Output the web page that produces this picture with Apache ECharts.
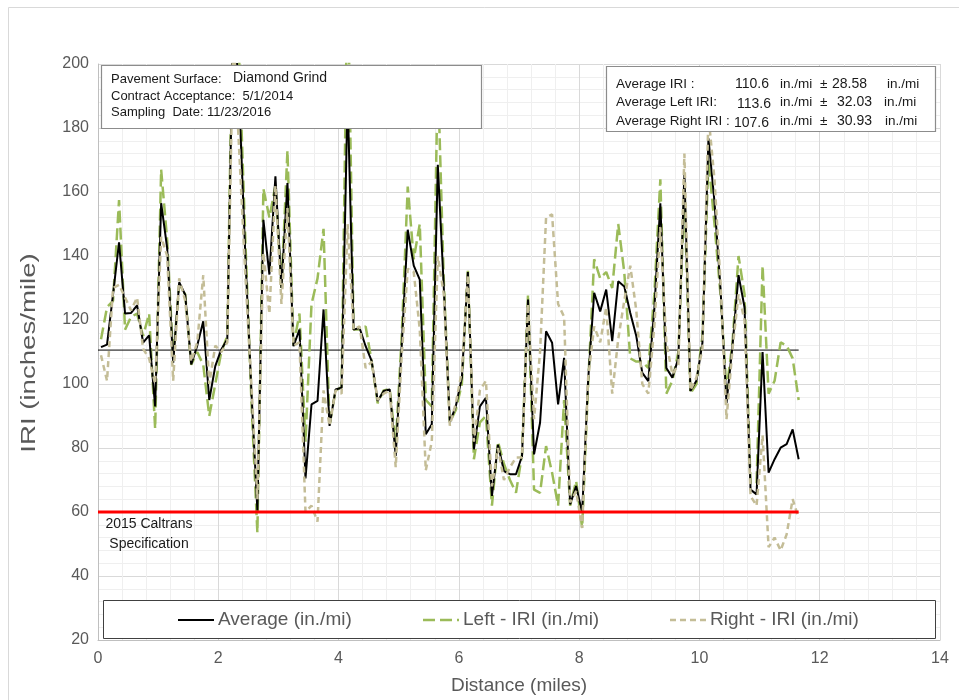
<!DOCTYPE html>
<html>
<head>
<meta charset="utf-8">
<script src="https://cdn.jsdelivr.net/npm/echarts@6/dist/echarts.min.js"></script>
<style>
html,body{margin:0;padding:0;background:#fff;}
#chart{width:959px;height:700px;}
</style>
</head>
<body>
<div id="chart"></div>
<script>
// ---- data ----
const distance = [0.05,0.15,0.25,0.35,0.45,0.55,0.65,0.75,0.85,0.95,
1.05,1.15,1.25,1.35,1.45,1.55,1.65,1.75,1.85,1.95,
2.05,2.15,2.25,2.35,2.45,2.55,2.65,2.75,2.85,2.95,
3.05,3.15,3.25,3.35,3.45,3.55,3.65,3.75,3.85,3.95,
4.05,4.15,4.25,4.35,4.45,4.55,4.65,4.75,4.85,4.95,
5.05,5.15,5.25,5.35,5.45,5.55,5.65,5.75,5.85,5.95,
6.05,6.15,6.25,6.35,6.45,6.55,6.65,6.75,6.85,6.95,
7.05,7.15,7.25,7.35,7.45,7.55,7.65,7.75,7.85,7.95,
8.05,8.15,8.25,8.35,8.45,8.55,8.65,8.75,8.85,8.95,
9.05,9.15,9.25,9.35,9.45,9.55,9.65,9.75,9.85,9.95,
10.05,10.15,10.25,10.35,10.45,10.55,10.65,10.75,10.85,10.95,
11.05,11.15,11.25,11.35,11.45,11.55,11.65];

const averageIRI = [111.5,112.3,128,144.3,122,122.2,124.6,112.9,115.2,93,
156.5,142.5,106.6,131.8,127.9,106.1,112,119.6,95,105.6,
110.8,114,220,188,140,98,60.5,151.3,134.2,164.9,
130,162.8,111.8,117,70.5,93.6,94.7,123.3,86.9,98.3,
98.8,190,117,117.5,111.8,107.2,94.7,97.8,98.3,77.5,
112,148.2,137,132.6,84.3,87.4,168.5,130,88,93.1,
102,135,79.6,93,95.7,65,81,72.8,71.8,71.8,
77.5,126.4,78,87.9,116.5,112.9,93.6,108.2,62.4,68.1,
59.8,101.4,128.5,122.7,129.5,113.4,132.1,130.5,122.2,115,
103.5,100.9,123.3,156.5,105,102,108,166,97.8,101,
112.9,176.8,157,130,94,112,134,124,67,65.5,
110,72.3,76.5,80.1,81.2,85.8,76.5];

const leftIRI = [114,124,126,157.5,117,121,122,115,122,86,
167,145,108,131,128,106,110,106,90,100,
110,115,230,200,145,95,53.5,161,152,162,
130,173,112,122,82,125,133,148.5,87,98,
99,230,117,117,118,107,94,98,98.5,81,
115,161.7,139,150,95,93,197,132,88,92,
100,136,76.5,88,90,62,82,75,70,66,
78,128,67,66,80.6,72.3,62,95,62,69.7,
55,100,139,133,135,130,150,135,108,107,
107,105,128,164,97,101,110,160,97,100,
115,170,150,128,98,113,140,128,69,69,
137,97,101,113,112,108,95];

const rightIRI = [109,101,130,131,127,123,127,111,108,100,
146,140,101,133,126,107,113,134,100,112,
110,113,210,172,134,100,64,141,122,162,
125,155,112,113,60,62,57,98,87,98,
97,150,117,118,105,107,95,97,98,74,
109,136,135,117,73,82,140,128,87,94,
104,134,82,98,101,68,80,70,74,77,
77,125,89,110,152,153,125,121,63,66.5,
55,102,118,113,124,97,114,126,137,123,
100,97,118,149,113,103,106,172,98,102,
111,184,164,132,89,111,128,120,65,62,
84,49,52,48,53,64,58];

const seriesNames = ['Average (in./mi)', 'Left - IRI (in./mi)', 'Right - IRI (in./mi)'];
const meanIRI = 110.6;        // Average IRI reference line
const specIRI = 60;           // 2015 Caltrans Specification
const lineSpan = [0, 11.65];  // extent of the reference lines (miles)
const xTicks = {min: 0, max: 14, step: 2};
const yTicks = {min: 20, max: 200, step: 20};
const xTitle = 'Distance (miles)';
const yTitle = 'IRI (inches/mile)';

const infoLeft = ['Pavement Surface:', 'Diamond Grind', 'Contract Acceptance:  5/1/2014', 'Sampling  Date: 11/23/2016'];
const statLabels = ['Average IRI :', 'Average Left IRI:', 'Average Right IRI :'];
const statMeans = ['110.6', '113.6', '107.6'];
const statSD = ['28.58', '32.03', '30.93'];
const unit = 'in./mi';
const specLabel = ['2015 Caltrans', 'Specification'];

// ---- chart ----
const F = 'Liberation Sans, Arial, sans-serif';
const COLORS = {avg: '#000000', left: '#9bbb59', right: '#c4bd97'};
const DASH = {avg: null, left: [12, 5], right: [6, 4]};
const pair = (arr) => distance.map((d, i) => [d, arr[i]]);
const chart = echarts.init(document.getElementById('chart'), null, {renderer: 'canvas'});

const txt = (text, x, y, size, align) => ({
  type: 'text', z: 101, silent: true,
  style: {text: text, x: x, y: y, fontSize: size, fontFamily: F, fill: '#1a1a1a', verticalAlign: 'middle', align: align || 'left'}
});

const graphics = [
  {type: 'rect', z: 1, silent: true, shape: {x: 8.5, y: 7.5, width: 1000, height: 800}, style: {fill: 'none', stroke: '#d9d9d9', lineWidth: 1}},
  // y axis title (elongated as in the reference)
  {type: 'text', z: 10, silent: true, x: 29, y: 353, rotation: Math.PI / 2, scaleX: 1.38, scaleY: 1,
   style: {text: yTitle, fontSize: 20, fontFamily: F, fill: '#595959', align: 'center', verticalAlign: 'middle'}},
  // legend box
  {type: 'rect', z: 50, silent: true, shape: {x: 103.5, y: 600.5, width: 832, height: 38}, style: {fill: '#fff', stroke: '#404040', lineWidth: 1}},
  // info box left
  {type: 'rect', z: 100, silent: true, shape: {x: 101.5, y: 65.5, width: 380, height: 63}, style: {fill: '#fff', stroke: '#8c8c8c', lineWidth: 1.2}},
  txt(infoLeft[0], 111, 79, 13),
  txt(infoLeft[1], 233, 78, 14),
  txt(infoLeft[2], 111, 96, 13),
  txt(infoLeft[3], 111, 112, 13),
  // stats box right
  {type: 'rect', z: 100, silent: true, shape: {x: 606.5, y: 66.5, width: 329, height: 65}, style: {fill: '#fff', stroke: '#8c8c8c', lineWidth: 1.2}}
];
const rowY = [84, 102, 121];
const numY = [84, 104, 123];
const numX = [735, 737, 734];
const sdX = [832, 837, 837];
const unit2X = [887, 884, 885];
for (let r = 0; r < 3; r++) {
  graphics.push(txt(statLabels[r], 616, rowY[r], 13.5));
  graphics.push(txt(statMeans[r], numX[r], numY[r], 14));
  graphics.push(txt(unit, 780, rowY[r], 13.5));
  graphics.push(txt('\u00b1', 820, rowY[r], 13.5));
  graphics.push(txt(statSD[r], sdX[r], rowY[r], 14));
  graphics.push(txt(unit, unit2X[r], rowY[r], 13.5));
}
graphics.push(txt(specLabel[0], 149, 524, 14, 'center'));
graphics.push(txt(specLabel[1], 149, 544, 14, 'center'));

// legend (drawn as line samples, no markers, like the reference)
const legendKeys = ['avg', 'left', 'right'];
const legendX = [178, 423, 670];
legendKeys.forEach((k, i) => {
  graphics.push({type: 'line', z: 55, silent: true,
    shape: {x1: legendX[i], y1: 620, x2: legendX[i] + 36, y2: 620},
    style: {stroke: COLORS[k], lineWidth: k === 'avg' ? 2 : 2.5, lineDash: DASH[k]}});
  graphics.push({type: 'text', z: 55, silent: true,
    style: {text: seriesNames[i], x: legendX[i] + 40, y: 620, fontSize: 19, fontFamily: F, fill: '#595959', verticalAlign: 'middle'}});
});

const axisCommon = {
  axisLine: {show: true, lineStyle: {color: '#bfbfbf', width: 1}},
  axisTick: {show: false},
  splitLine: {show: true, lineStyle: {color: '#d9d9d9', width: 1}},
  minorTick: {show: false, splitNumber: 5},
  minorSplitLine: {show: true, lineStyle: {color: '#efefef', width: 1}}
};

const option = {
  animation: false,
  backgroundColor: '#fff',
  grid: {left: 98, right: 19, top: 64, bottom: 59, containLabel: false},
  xAxis: Object.assign({
    type: 'value', min: xTicks.min, max: xTicks.max, interval: xTicks.step,
    name: xTitle, nameLocation: 'middle', nameGap: 36,
    nameTextStyle: {fontSize: 19, fontFamily: F, color: '#595959'},
    axisLabel: {fontSize: 16, fontFamily: F, color: '#595959', margin: 11}
  }, axisCommon),
  yAxis: Object.assign({
    type: 'value', min: yTicks.min, max: yTicks.max, interval: yTicks.step,
    axisLabel: {fontSize: 16, fontFamily: F, color: '#595959', margin: 9}
  }, axisCommon),
  graphic: graphics,
  series: [
    {
      name: seriesNames[1], type: 'line', data: pair(leftIRI), symbol: 'none', z: 2,
      lineStyle: {color: COLORS.left, width: 2.5, type: DASH.left}
    },
    {
      name: seriesNames[0], type: 'line', data: pair(averageIRI), symbol: 'none', z: 3,
      lineStyle: {color: COLORS.avg, width: 2}
    },
    {
      name: seriesNames[2], type: 'line', data: pair(rightIRI), symbol: 'none', z: 4,
      lineStyle: {color: COLORS.right, width: 2.5, type: DASH.right}
    },
    {
      name: 'mean', type: 'line', data: lineSpan.map(d => [d, meanIRI]), symbol: 'none', z: 1,
      lineStyle: {color: '#000', width: 1}, silent: true
    },
    {
      name: 'spec', type: 'line', data: lineSpan.map(d => [d, specIRI]), symbol: 'none', z: 5,
      lineStyle: {color: '#ff0000', width: 3}, silent: true
    }
  ]
};
chart.setOption(option);
</script>
</body>
</html>
